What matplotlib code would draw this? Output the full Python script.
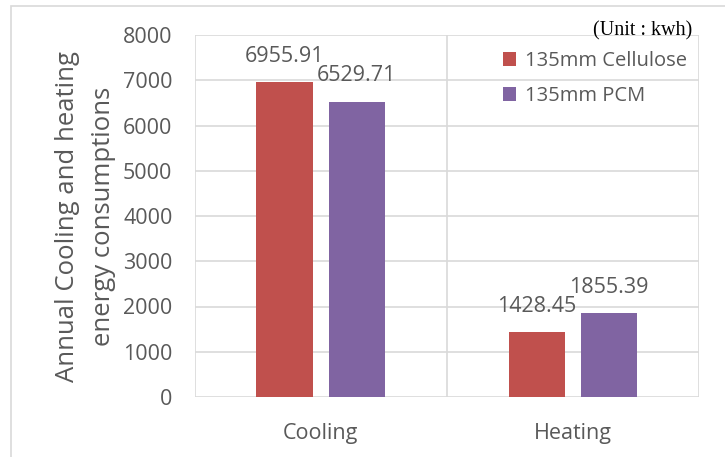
import matplotlib
matplotlib.use("Agg")
import matplotlib.pyplot as plt
from matplotlib.patches import Rectangle
import numpy as np

categories = ["Cooling", "Heating"]
series_names = ["135mm Cellulose", "135mm PCM"]
cellulose = [6955.91, 1428.45]
pcm = [6529.71, 1855.39]
y_ticks = [0, 1000, 2000, 3000, 4000, 5000, 6000, 7000, 8000]
colors = ["#C0504D", "#8064A2"]

TEXT = "#595959"
GRID = "#D9D9D9"
FONT = ["Open Sans", "DejaVu Sans"]
plt.rcParams["font.family"] = FONT

W, H = 725, 457
fig = plt.figure(figsize=(W / 100, H / 100), dpi=100)

# outer chart frame
fig.patches.append(Rectangle((11 / W, 0 - 0.01), 1.0, 1 - 6 / H + 0.01,
                             transform=fig.transFigure, fill=False,
                             edgecolor=GRID, linewidth=1.2))

left, right, top, bottom = 194.6, 699, 35, 397
ax = fig.add_axes([left / W, 1 - bottom / H, (right - left) / W, (bottom - top) / H])

x = np.arange(len(categories))
width = 0.224
offset = 0.143
series = [cellulose, pcm]
for i, (vals, name, c) in enumerate(zip(series, series_names, colors)):
    xs = x + (i * 2 - 1) * offset
    bars = ax.bar(xs, vals, width, color=c, label=name, zorder=3)
    for b, v in zip(bars, vals):
        ax.annotate(f"{v:.2f}", (b.get_x() + b.get_width() / 2, v),
                    xytext=(0, 26), textcoords="offset pixels",
                    ha="center", va="center", fontsize=15.5, color=TEXT)

ax.set_xlim(-0.5, len(categories) - 0.5)
ax.set_ylim(0, 8000)
ax.set_yticks(y_ticks)
ax.set_yticklabels([str(t) for t in y_ticks])
ax.set_xticks(x)
ax.set_xticklabels(categories)
ax.tick_params(axis="both", length=0, labelsize=15.5, labelcolor=TEXT)
ax.tick_params(axis="y", pad=16)
ax.tick_params(axis="x", pad=19)

# horizontal gridlines at each y tick, vertical ones at category boundaries
for t in y_ticks:
    ax.axhline(t, color=GRID, linewidth=1.2, zorder=1)
for b in np.arange(-0.5, len(categories), 1.0):
    ax.axvline(b, color=GRID, linewidth=1.2, zorder=1)
for s in ax.spines.values():
    s.set_visible(False)

ax.set_ylabel("Annual Cooling and heating\nenergy consumptions", fontsize=18.5,
              color=TEXT, labelpad=5, linespacing=1.6)

leg = ax.legend(loc="upper right", frameon=False, fontsize=14.5, labelcolor=TEXT,
                handlelength=0.65, handleheight=0.65, handletextpad=0.45,
                labelspacing=0.75, bbox_to_anchor=(1.005, 0.995), borderaxespad=0.3)

fig.text(692 / W, 1 - 31 / H, "(Unit : kwh)", ha="right", va="center",
         fontsize=14.5, color="black", family=["Liberation Serif", "DejaVu Serif"])

fig.savefig("out.png", dpi=100)
